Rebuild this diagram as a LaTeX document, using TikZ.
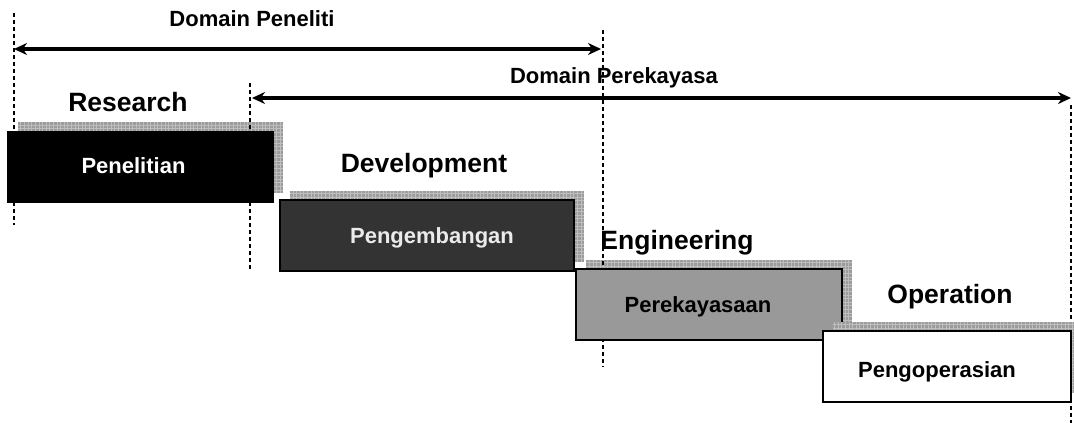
\documentclass[tikz,border=0pt]{standalone}
\usepackage{fontspec}
\setsansfont{Liberation Sans}
\usetikzlibrary{positioning,arrows.meta,calc}
\definecolor{rdDark}{HTML}{333333}
\definecolor{rdMid}{HTML}{999999}
\definecolor{rdShade}{HTML}{9C9C9C}
\definecolor{rdGrid}{HTML}{BEBEBE}
\tikzset{
  rd-box/.style={
    draw=black, line width=1.4pt, inner sep=0pt, outer sep=0pt,
    minimum height=71pt
  },
  rd-shade/.style={
    fill=rdShade, inner sep=0pt, outer sep=0pt, minimum height=71pt,
    path picture={\draw[rdGrid, line width=0.8pt, step=3.6pt]
      (path picture bounding box.south west) grid
      (path picture bounding box.north east);}
  },
  rd-text/.style={font=\fontsize{22}{26}\selectfont\bfseries\sffamily,
    inner sep=0pt, anchor=base},
  rd-stage/.style={font=\fontsize{26.5}{31}\selectfont\bfseries\sffamily,
    inner sep=0pt, anchor=base},
  rd-span/.style={{Stealth[length=13pt,width=12pt]}-{Stealth[length=13pt,width=12pt]},
    line width=4.2pt},
  rd-guide/.style={line width=1.2pt, dash pattern=on 4pt off 3pt}
}

\begin{document}
\begin{tikzpicture}[x=1pt, y=-1pt]
\useasboundingbox (0,0) rectangle (1074,423);

% guide lines
\coordinate (g1a) at (14,13);   \coordinate (g1b) at (14,225);
\coordinate (g2a) at (250,83);  \coordinate (g2b) at (250,270);
\coordinate (g3a) at (603,30);  \coordinate (g3b) at (603,367);
\coordinate (g4a) at (1071,105); \coordinate (g4b) at (1071,423);

% Research
\node[rd-shade, minimum width=265pt] (penS) at (150.5,157.5) {};
\node[rd-box, fill=black, minimum width=265pt] (pen) at (140.5,167) {};

% Development
\node[rd-shade, minimum width=294pt] (pengS) at (437,226) {};
\node[rd-box, fill=rdDark, minimum width=294pt] (peng) at (427,235.5) {};

% Engineering
\node[rd-shade, minimum width=266pt] (rekS) at (719,295) {};

% domains (over the shades, under the boxes)
\draw[rd-guide] (g1a) -- (g1b);
\draw[rd-guide] (g2a) -- (g2b);
\draw[rd-guide] (g3a) -- (g3b);
\draw[rd-guide] (g4a) -- (g4b);
\coordinate (d1a) at (14,49);  \coordinate (d1b) at (601,49);
\coordinate (d2a) at (252,98); \coordinate (d2b) at (1071,98);
\draw[rd-span] (d1a) -- (d1b);
\draw[rd-span] (d2a) -- (d2b);
\node[rd-text] (domPen) at (252,27) {Domain Peneliti};
\node[rd-text] (domRek) at (614,83) {Domain Perekayasa};

\node[rd-box, fill=rdMid, minimum width=266pt] (rek) at (709,304.5) {};

% Operation
\node[rd-shade, minimum width=248pt] (opS) at (957,357) {};
\node[rd-box, fill=white, minimum width=248pt] (op) at (947,366.5) {};

% stage titles
\node[rd-stage] (tRes) at (128,111) {Research};
\node[rd-stage] (tDev) at (424,172) {Development};
\node[rd-stage] (tEng) at (677,249) {Engineering};
\node[rd-stage] (tOp) at (950,303) {Operation};

% box texts
\node[rd-text, text=white] (lPen) at ($(pen)+(-7,6)$) {Penelitian};
\node[rd-text, text=white!92!black] (lPeng) at ($(peng)+(5,7.5)$) {Pengembangan};
\node[rd-text] (lRek) at ($(rek)+(-11,7.5)$) {Perekayasaan};
\node[rd-text] (lOp) at ($(op)+(-10,10.5)$) {Pengoperasian};
\end{tikzpicture}
\end{document}
